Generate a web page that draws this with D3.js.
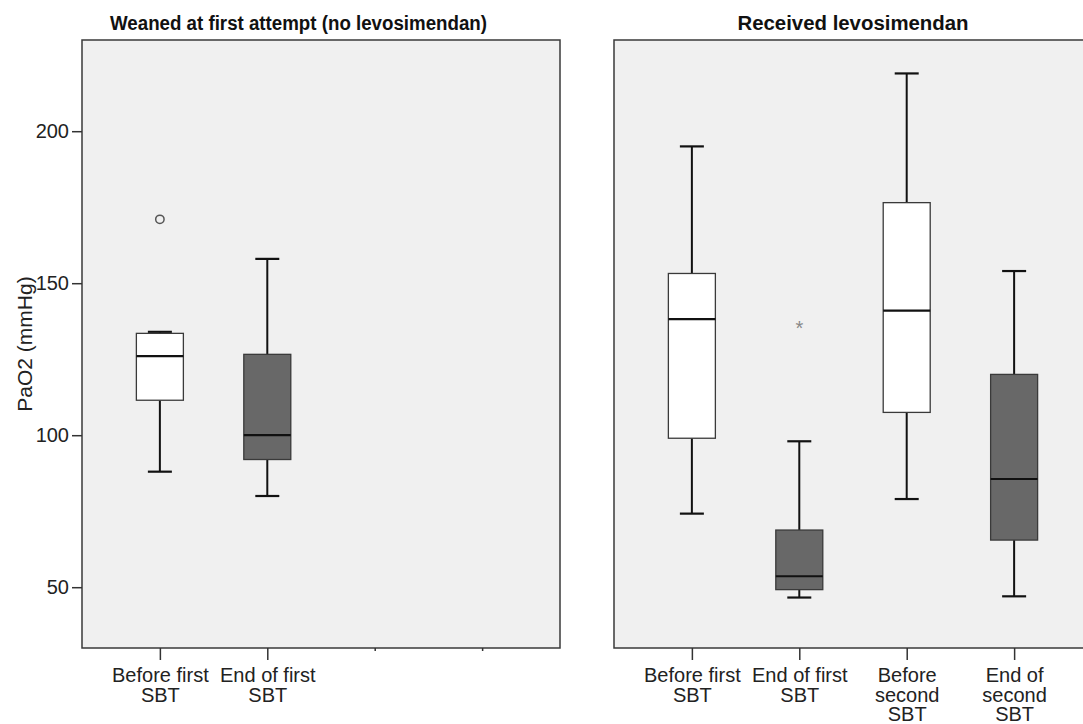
<!DOCTYPE html>
<html>
<head>
<meta charset="utf-8">
<script src="https://cdn.jsdelivr.net/npm/d3@7"></script>
<style>
  body { margin: 0; background: #fff; }
  text { font-family: "Liberation Sans", Arial, sans-serif; }
</style>
</head>
<body>
<svg id="chart" width="1083" height="724"></svg>
<script>
// categories on the x axis, and the wrapped text for each tick
const categories = ["Before first SBT", "End of first SBT", "Before second SBT", "End of second SBT"];
const tickLines = [["Before first", "SBT"], ["End of first", "SBT"], ["Before", "second", "SBT"], ["End of", "second", "SBT"]];
const panelTitles = ["Weaned at first attempt (no levosimendan)", "Received levosimendan"];
const yTicks = [50, 100, 150, 200];

// five-number summaries: [lower whisker, Q1, median, Q3, upper whisker]
const weanedBoxes = [[88, 111.5, 126, 133.5, 134], [80, 92, 100, 126.6, 158]];
const levoBoxes = [[74.2, 99, 138.2, 153.2, 195], [46.6, 49.2, 53.6, 68.8, 98],
                   [79, 107.5, 141, 176.5, 219], [47, 65.5, 85.6, 120, 154]];
const boxFill = ["#ffffff", "#686868", "#ffffff", "#686868"];

// outliers as [category index, value]
const weanedOutliers = [[0, 171]];
const levoExtremes = [[1, 136]];

const svg = d3.select("#chart");
const plotTop = 40, plotBottom = 648;
const y = d3.scaleLinear().domain([30, 230]).range([plotBottom, plotTop]);

const panels = [
  { x0: 82, x1: 560, boxes: weanedBoxes, circles: weanedOutliers, stars: [], titleX: 298.5, titleLen: 377, yAxis: true },
  { x0: 614, x1: 1092, boxes: levoBoxes, circles: [], stars: levoExtremes, titleX: 853, titleLen: 231, yAxis: false }
];

panels.forEach((p, pi) => {
  let x = d3.scalePoint().domain(categories).range([p.x0, p.x1]).padding(0.725);
  let g = svg.append("g");

  g.append("rect")
    .attr("x", p.x0).attr("y", plotTop)
    .attr("width", p.x1 - p.x0).attr("height", plotBottom - plotTop)
    .attr("fill", "#f0f0f0").attr("stroke", "#3a3a3a").attr("stroke-width", 1.5);

  g.append("text")
    .attr("x", p.titleX).attr("y", 30)
    .attr("text-anchor", "middle")
    .attr("textLength", p.titleLen).attr("lengthAdjust", "spacingAndGlyphs")
    .style("font-size", "20px").style("font-weight", "bold").attr("fill", "#111")
    .text(panelTitles[pi]);

  // x axis ticks; empty categories only get a stub
  let xa = g.append("g").attr("transform", `translate(0,${plotBottom})`)
    .call(d3.axisBottom(x).tickSize(12).tickFormat(""));
  xa.select(".domain").remove();
  xa.selectAll(".tick line").attr("stroke", "#333").attr("stroke-width", 1.5)
    .attr("y2", (d, i) => i < p.boxes.length ? 12 : 3);
  xa.selectAll(".tick").each(function (d, i) {
    if (i >= p.boxes.length) return;
    let t = d3.select(this).append("text")
      .attr("text-anchor", "middle").attr("fill", "#222")
      .style("font-size", "20px");
    tickLines[i].forEach((line, li) => {
      t.append("tspan").attr("x", 0).attr("y", 34 + li * 19.5).text(line);
    });
  });

  if (p.yAxis) {
    let ya = g.append("g").attr("transform", `translate(${p.x0},0)`)
      .call(d3.axisLeft(y).tickValues(yTicks).tickSize(10).tickPadding(3));
    ya.select(".domain").remove();
    ya.selectAll(".tick line").attr("stroke", "#333").attr("stroke-width", 1.5);
    ya.selectAll(".tick text").attr("fill", "#222").style("font-size", "20px")
      .style("font-family", "'Liberation Sans', Arial, sans-serif");
    g.append("text")
      .attr("transform", `translate(32,${(plotTop + plotBottom) / 2}) rotate(-90)`)
      .attr("text-anchor", "middle").attr("fill", "#222")
      .style("font-size", "21px")
      .text("PaO2 (mmHg)");
  }

  let boxW = 47, capW = 24;
  p.boxes.forEach((b, i) => {
    let cx = x(categories[i]);
    let bg = g.append("g");
    bg.append("line").attr("x1", cx).attr("x2", cx).attr("y1", y(b[0])).attr("y2", y(b[1]))
      .attr("stroke", "#111").attr("stroke-width", 2);
    bg.append("line").attr("x1", cx).attr("x2", cx).attr("y1", y(b[3])).attr("y2", y(b[4]))
      .attr("stroke", "#111").attr("stroke-width", 2);
    [b[0], b[4]].forEach(v => {
      bg.append("line").attr("x1", cx - capW / 2).attr("x2", cx + capW / 2)
        .attr("y1", y(v)).attr("y2", y(v))
        .attr("stroke", "#111").attr("stroke-width", 2.2);
    });
    bg.append("rect")
      .attr("x", cx - boxW / 2).attr("y", y(b[3]))
      .attr("width", boxW).attr("height", y(b[1]) - y(b[3]))
      .attr("fill", boxFill[i]).attr("stroke", "#3a3a3a").attr("stroke-width", 1.3);
    bg.append("line").attr("x1", cx - boxW / 2).attr("x2", cx + boxW / 2)
      .attr("y1", y(b[2])).attr("y2", y(b[2]))
      .attr("stroke", "#111").attr("stroke-width", 2.2);
  });

  p.circles.forEach(o => {
    g.append("circle").attr("cx", x(categories[o[0]])).attr("cy", y(o[1])).attr("r", 4.2)
      .attr("fill", "none").attr("stroke", "#555").attr("stroke-width", 1.5);
  });
  p.stars.forEach(o => {
    g.append("text").attr("x", x(categories[o[0]])).attr("y", y(o[1]) + 9)
      .attr("text-anchor", "middle").attr("fill", "#888")
      .style("font-size", "20px").text("*");
  });
});
</script>
</body>
</html>
